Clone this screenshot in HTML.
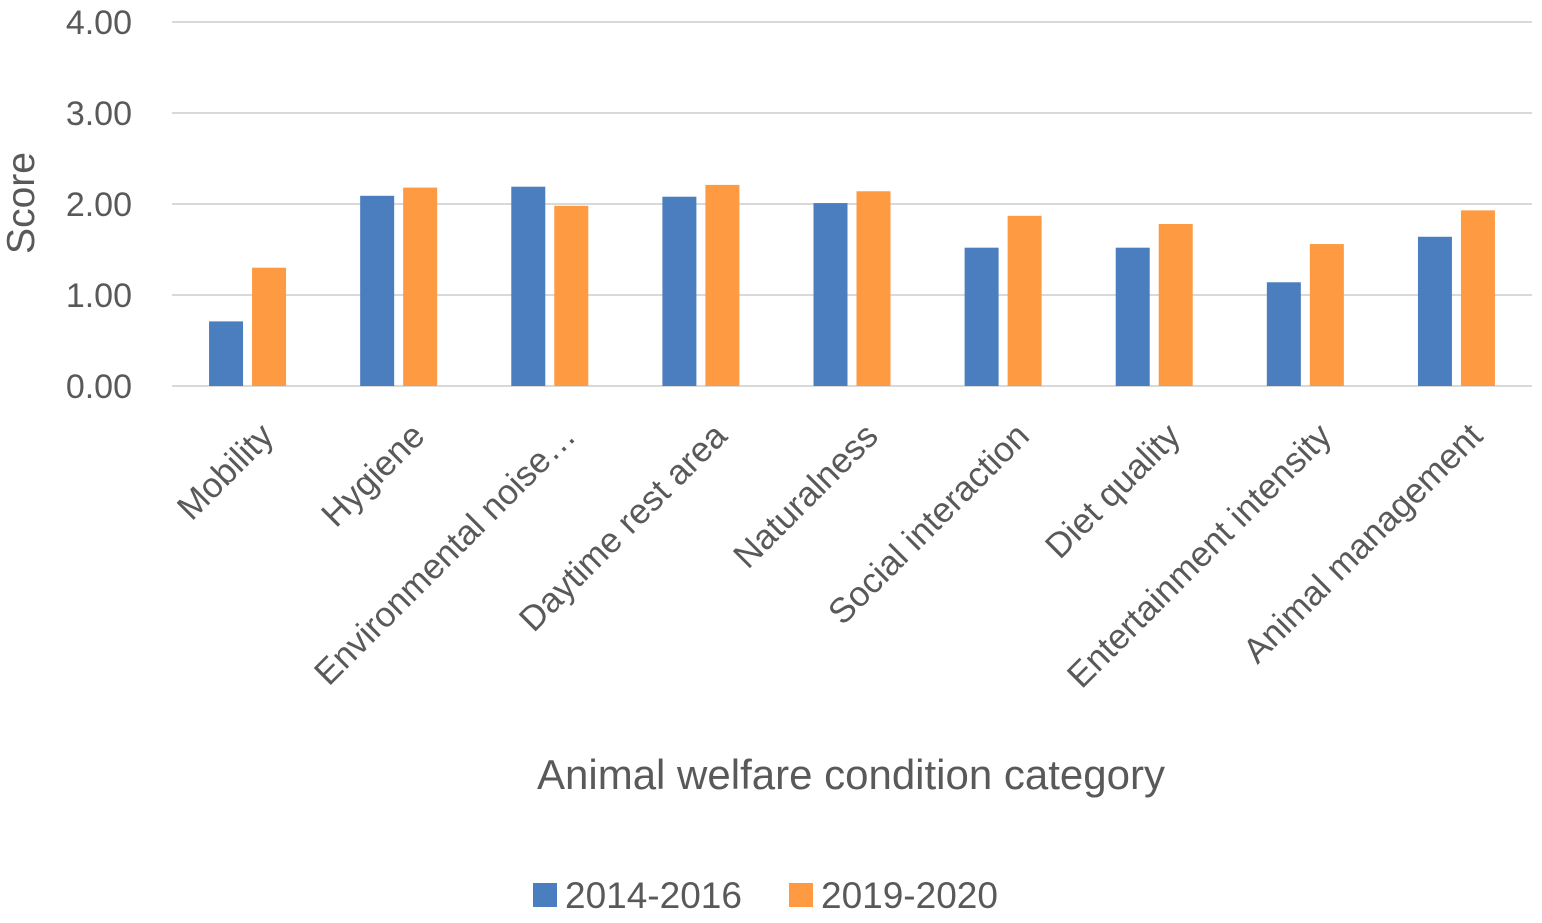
<!DOCTYPE html>
<html><head><meta charset="utf-8"><style>
body{margin:0;background:#fff;}
svg text{font-family:"Liberation Sans",sans-serif;fill:#595959;}
</style></head><body>
<svg id="chart" width="1542" height="918" viewBox="0 0 1542 918" xmlns="http://www.w3.org/2000/svg">
<g id="grid"></g><g id="bars"></g><g id="xlabels"></g>
<text x="0" y="0" font-size="39" text-anchor="middle" transform="translate(34,203) rotate(-90)">Score</text>
<text x="851" y="789" font-size="42" text-anchor="middle">Animal welfare condition category</text>
<g>
<rect x="533" y="883" width="24" height="24" fill="#4a7ebf"/>
<text x="565" y="908" font-size="37">2014-2016</text>
<rect x="789" y="883" width="24" height="24" fill="#fd9a42"/>
<text x="821" y="908" font-size="37">2019-2020</text>
</g>
</svg>
<script>
const categories=["Mobility","Hygiene","Environmental noise…","Daytime rest area","Naturalness","Social interaction","Diet quality","Entertainment intensity","Animal management"];
const series2014=[0.71,2.09,2.19,2.08,2.01,1.52,1.52,1.14,1.64];
const series2019=[1.30,2.18,1.98,2.21,2.14,1.87,1.78,1.56,1.93];
const yTicks=[0,1,2,3,4];
const yTickLabels=["0.00","1.00","2.00","3.00","4.00"];
const NS="http://www.w3.org/2000/svg";
const x0=172,x1=1532,y0=386,pxPerUnit=91;
const band=(x1-x0)/categories.length;
function yScale(v){return y0-v*pxPerUnit;}
function xCenter(i){return x0+band*(i+0.5);}
function mk(tag,attrs,parent){const e=document.createElementNS(NS,tag);for(const k in attrs)e.setAttribute(k,attrs[k]);parent.appendChild(e);return e;}
const grid=document.getElementById('grid');
yTicks.forEach((t,i)=>{
  const l=mk('line',{x1:x0,x2:x1,y1:yScale(t),y2:yScale(t),stroke:'#d9d9d9','stroke-width':2},grid);
  
  
  const tx=mk('text',{x:132,y:yScale(t)+12,'font-size':34,'text-anchor':'end'},grid);
  tx.textContent=yTickLabels[i];
  
  
});
const bars=document.getElementById('bars');
const bw=34,gap=9;
categories.forEach((c,i)=>{
  const cx=xCenter(i);
  const b1=mk('rect',{x:cx-gap/2-bw,y:yScale(series2014[i]),width:bw,height:y0-yScale(series2014[i]),fill:'#4a7ebf'},bars);
  
  
  const b2=mk('rect',{x:cx+gap/2,y:yScale(series2019[i]),width:bw,height:y0-yScale(series2019[i]),fill:'#fd9a42'},bars);
  
  
  const t=mk('text',{x:0,y:0,'font-size':35,'text-anchor':'end',transform:`translate(${cx+28},${y0+52}) rotate(-45)`},document.getElementById('xlabels'));
  t.textContent=c;
  
  
});
</script>
</body></html>
